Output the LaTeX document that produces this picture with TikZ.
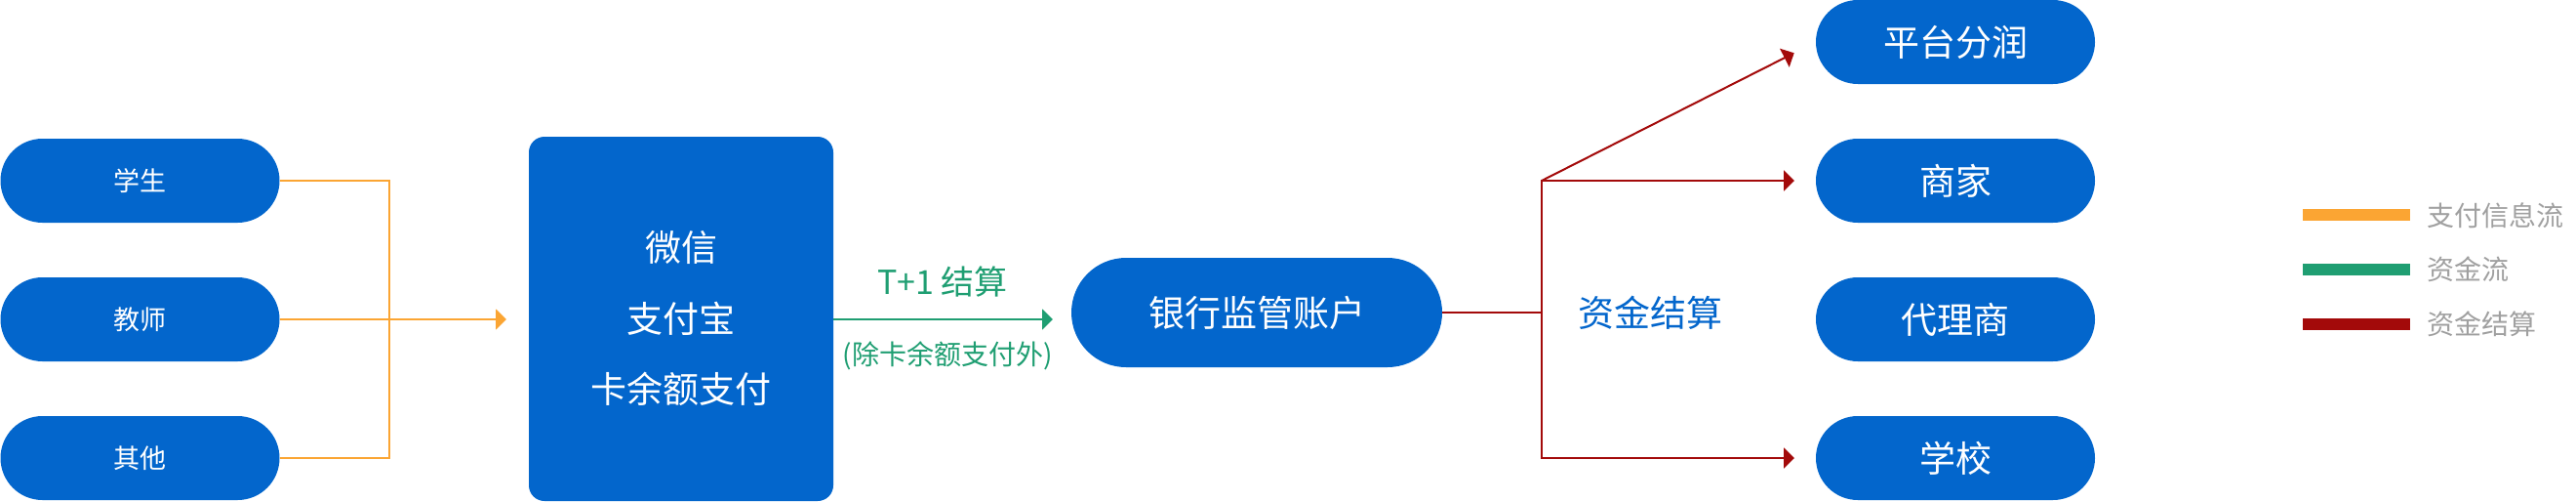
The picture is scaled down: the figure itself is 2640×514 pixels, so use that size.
\documentclass[tikz,border=0pt]{standalone}
\usepackage{fontspec}
\setmainfont{Noto Sans CJK SC}
\usetikzlibrary{arrows.meta}
\definecolor{boxblue}{HTML}{0366CC}
\definecolor{infoorange}{HTML}{FBA533}
\definecolor{fundgreen}{HTML}{1F9E72}
\definecolor{settlered}{HTML}{A30A0A}
\definecolor{keygray}{HTML}{A0A0A0}

\begin{document}
\begin{tikzpicture}[x=1pt, y=-1pt,
	every node/.style={inner sep=0pt, outer sep=0pt},
	pill/.style={fill=boxblue, text=white, rounded corners=43pt, minimum width=286pt, minimum height=86pt},
	small/.style={font=\fontsize{27}{32}\selectfont},
	big/.style={font=\fontsize{37}{44}\selectfont},
	flow/.style={line width=2pt, -{Triangle[length=11pt,width=21pt]}},
	info/.style={flow, draw=infoorange},
	fund/.style={flow, draw=fundgreen},
	settle/.style={flow, draw=settlered},
	keytext/.style={anchor=west, text=keygray, font=\fontsize{28}{32}\selectfont},]

\useasboundingbox (0,0) rectangle (2640,514);

% who pays
\node[pill, small] (student) at (143.5,185) {学生};
\node[pill, small] (teacher) at (143.5,327) {教师};
\node[pill, small] (others) at (143.5,469) {其他};

% payment channels
\node[fill=boxblue, text=white, rounded corners=16pt, minimum width=312pt, minimum height=373pt,
	align=center, font=\fontsize{37}{72.5}\selectfont] (channel) at (698,326.5) {微信\\支付宝\\卡余额支付};

\node[pill, big, rounded corners=56pt, minimum width=380pt, minimum height=112pt] (bank) at (1288,320) {银行监管账户};

% who receives
\node[pill, big] (platform) at (2004,43) {平台分润};
\node[pill, big] (shop) at (2004,185) {商家};
\node[pill, big] (agent) at (2004,327) {代理商};
\node[pill, big] (school) at (2004,469) {学校};

% orange: payment info
\coordinate (merge) at (399,327);
\draw[info, -] (student.east) -| (merge) |- (others.east);
\draw[info, shorten >=23pt] (teacher.east) -- (channel.west |- teacher.east);

% green: funds
\draw[fund, shorten >=19pt] (channel.east |- teacher.east) -- (bank.west |- teacher.east);
\node[text=fundgreen, font=\fontsize{34}{40}\selectfont] (tplus) at (966,289) {T+1 结算};
\node[text=fundgreen, font=\fontsize{28}{32}\selectfont] (except) at (971,364) {(除卡余额支付外)};

% red: settlement
\coordinate (split) at (1580,320);
\coordinate (fork) at (split |- shop.west);
\draw[settlered, line width=2pt] (bank.east) -- (split);
\draw[settle, shorten >=22pt] (split) |- (shop.west);
\draw[settle, shorten >=22pt] (split) |- (school.west);
\draw[settle, shorten >=25pt] (fork) -- (platform.west);
\node[text=boxblue, big] (settlelabel) at (1691,320) {资金结算};

% legend
\node[keytext] (key1) at (2487,221) {支付信息流};
\node[keytext] (key2) at (2487,276) {资金流};
\node[keytext] (key3) at (2487,332) {资金结算};
\draw[infoorange, line width=12pt] (2360,220) -- (2470,220);
\draw[fundgreen, line width=12pt] (2360,276) -- (2470,276);
\draw[settlered, line width=12pt] (2360,332) -- (2470,332);
\end{tikzpicture}
\end{document}
